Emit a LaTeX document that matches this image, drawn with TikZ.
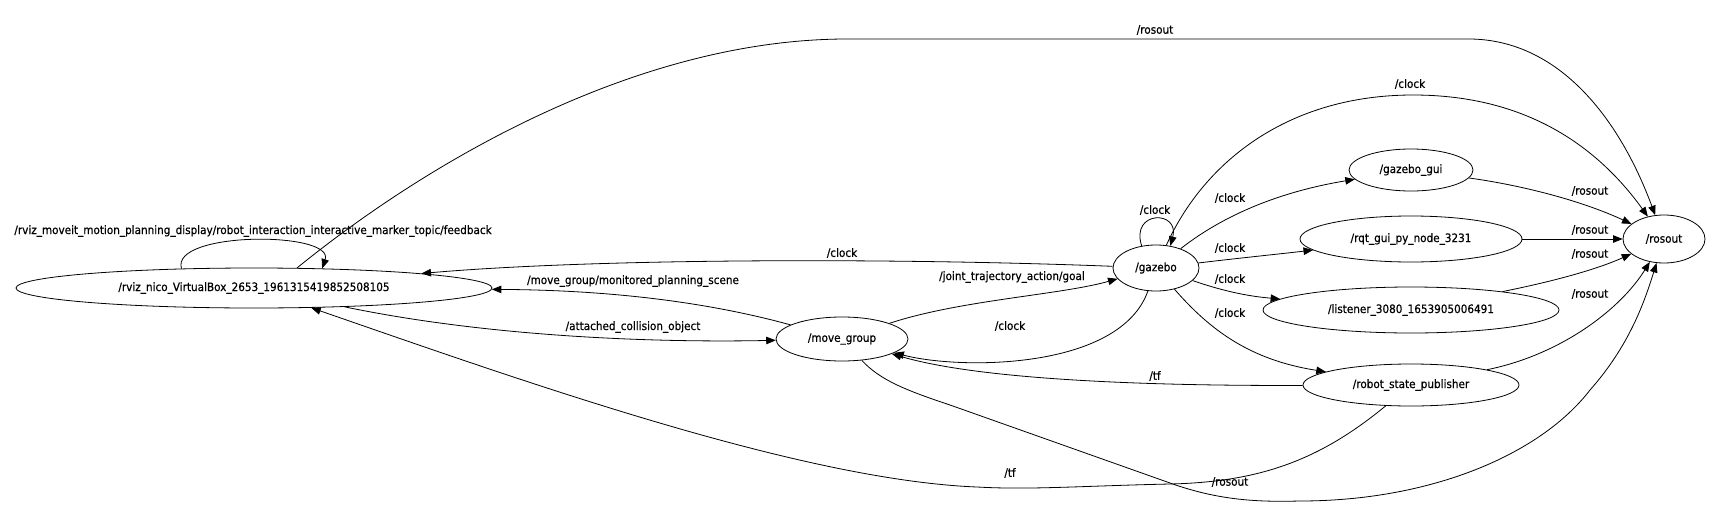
\documentclass[tikz,border=0pt]{standalone}
\usepackage{fontspec}
\setmainfont{DejaVu Sans}[FakeStretch=0.9,FakeBold=0.6]
\usetikzlibrary{arrows.meta,shapes.geometric}
\begin{document}
\begin{tikzpicture}[x=1pt,y=-1pt,
  every node/.style={font=\fontsize{11.6}{13}\selectfont},
  rosnode/.style={draw,ellipse,inner sep=0pt,line width=0.8pt},
  lbl/.style={inner sep=0pt},
  arr/.style={draw,line width=0.8pt,-{Triangle[length=9.5pt,width=7.5pt]}}]
\useasboundingbox (0,0) rectangle (1717,522);
\fill[white] (0,0) rectangle (1717,522);
% nodes
\node[rosnode,minimum width=476pt,minimum height=40pt] (rviz) at (254,288) {/rviz\_nico\_VirtualBox\_2653\_1961315419852508105};
\node[rosnode,minimum width=132pt,minimum height=44pt] (mg) at (842,339) {/move\_group};
\node[rosnode,minimum width=86pt,minimum height=46pt] (gz) at (1156,268) {/gazebo};
\node[rosnode,minimum width=124pt,minimum height=42pt] (gui) at (1411,170) {/gazebo\_gui};
\node[rosnode,minimum width=222pt,minimum height=46pt] (rqt) at (1411,239) {/rqt\_gui\_py\_node\_3231};
\node[rosnode,minimum width=296pt,minimum height=46pt] (lis) at (1411,310) {/listener\_3080\_1653905006491};
\node[rosnode,minimum width=216pt,minimum height=42pt] (rsp) at (1411,385) {/robot\_state\_publisher};
\node[rosnode,minimum width=82pt,minimum height=48pt] (ros) at (1664,239) {/rosout};
% edges
\draw[arr] (rviz.165) .. controls (170,231) and (335,231) .. (rviz.16);
\draw[arr] (rviz.25) .. controls (430,160) and (640,38) .. (850,39) -- (1470,39) .. controls (1560,40) and (1620,120) .. (ros);
\draw[arr] (gz) .. controls (1205,160) and (1290,95) .. (1413,95) .. controls (1530,95) and (1600,150) .. (ros);
\draw[arr] (gz) .. controls (900,258) and (600,258) .. (rviz);
\draw[arr] (mg) .. controls (700,300) and (600,290) .. (rviz);
\draw[arr] (rviz) .. controls (480,335) and (640,343) .. (mg);
\draw[arr] (mg) .. controls (960,300) and (1060,295) .. (gz);
\draw[arr] (gz) .. controls (1120,370) and (960,370) .. (mg);
\draw[arr] (gz) .. controls (1230,210) and (1290,190) .. (gui);
\draw[arr] (gz) .. controls (1240,258) and (1270,255) .. (rqt);
\draw[arr] (gz) .. controls (1220,290) and (1245,296) .. (lis);
\draw[arr] (gz) .. controls (1210,330) and (1250,360) .. (rsp);
\draw[arr] (gz.123) .. controls (1130,210) and (1180,210) .. (gz.57);
\draw[arr] (gui) .. controls (1520,185) and (1580,200) .. (ros);
\draw[arr] (rqt) -- (ros);
\draw[arr] (lis) .. controls (1560,280) and (1600,268) .. (ros);
\draw[arr] (rsp) .. controls (1560,355) and (1620,310) .. (ros);
\draw[arr] (rsp) .. controls (1150,386) and (980,380) .. (mg);
\draw[arr] (rsp) .. controls (1320,460) and (1260,482) .. (1170,484) .. controls (1080,486) and (1030,490) .. (977,487) .. controls (800,480) and (520,380) .. (rviz);
\draw[arr] (mg) .. controls (880,380) and (905,390) .. (950,405) -- (1170,483) .. controls (1220,501) and (1260,502) .. (1300,501) .. controls (1430,501) and (1540,455) .. (1590,390) .. controls (1630,345) and (1645,300) .. (ros);
% labels
\node[lbl] (l1) at (253,231) {/rviz\_moveit\_motion\_planning\_display/robot\_interaction\_interactive\_marker\_topic/feedback};
\node[lbl] (l2) at (1155,30) {/rosout};
\node[lbl] (l3) at (1410,84) {/clock};
\node[lbl] (l4) at (842,253) {/clock};
\node[lbl] (l5) at (633,281) {/move\_group/monitored\_planning\_scene};
\node[lbl] (l6) at (633,327) {/attached\_collision\_object};
\node[lbl] (l7) at (1012,277) {/joint\_trajectory\_action/goal};
\node[lbl] (l8) at (1010,326) {/clock};
\node[lbl] (l9) at (1155,210) {/clock};
\node[lbl] (l10) at (1230,198) {/clock};
\node[lbl] (l11) at (1230,248) {/clock};
\node[lbl] (l12) at (1230,279) {/clock};
\node[lbl] (l13) at (1230,313) {/clock};
\node[lbl] (l14) at (1590,191) {/rosout};
\node[lbl] (l15) at (1590,230) {/rosout};
\node[lbl] (l16) at (1590,254) {/rosout};
\node[lbl] (l17) at (1590,294) {/rosout};
\node[lbl] (l18) at (1155,376) {/tf};
\node[lbl] (l19) at (1010,473) {/tf};
\node[lbl] (l20) at (1230,482) {/rosout};
\end{tikzpicture}
\end{document}
